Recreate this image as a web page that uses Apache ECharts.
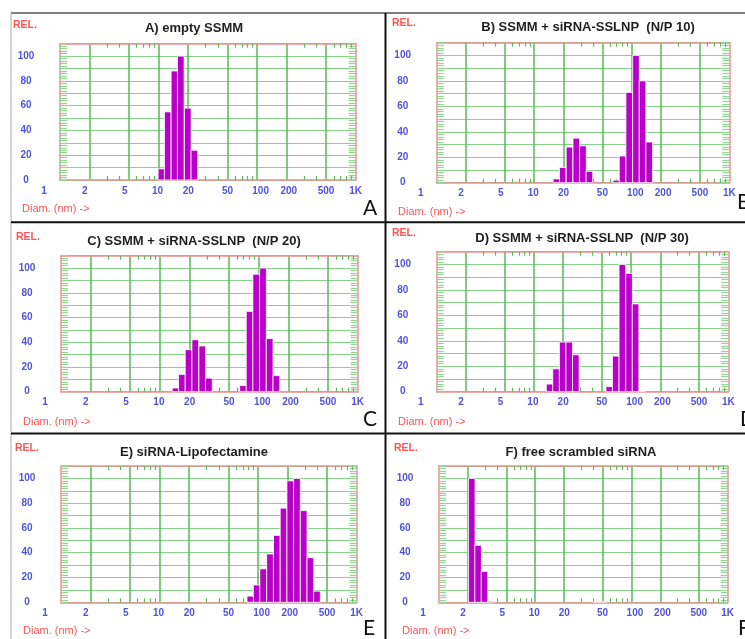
<!DOCTYPE html>
<html>
<head>
<meta charset="utf-8">
<script src="https://cdn.jsdelivr.net/npm/echarts@6/dist/echarts.min.js"></script>
<style>
html,body{margin:0;padding:0;background:#fff;}
#chart{width:745px;height:639px;}
</style>
</head>
<body>
<div id="chart"></div>
<script>
// ---- data ----
var xTickValues = [1, 2, 5, 10, 20, 50, 100, 200, 500, 1000];
var xTickLabels = ['1', '2', '5', '10', '20', '50', '100', '200', '500', '1K'];
var xGridValues = [2, 5, 10, 20, 50, 100, 200, 500];
var xMinorValues = [3, 4, 6, 7, 8, 9, 30, 40, 60, 70, 80, 90, 300, 400, 600, 700, 800, 900];
var yTickLabels = [0, 20, 40, 60, 80, 100];

var panelTitles = [
  'A) empty SSMM',
  'B) SSMM + siRNA-SSLNP  (N/P 10)',
  'C) SSMM + siRNA-SSLNP  (N/P 20)',
  'D) SSMM + siRNA-SSLNP  (N/P 30)',
  'E) siRNA-Lipofectamine',
  'F) free scrambled siRNA'
];
var panelLetters = ['A', 'B', 'C', 'D', 'E', 'F'];

var diamA = [10.7, 12.4, 14.5, 16.8, 19.8, 23.1];
var relA  = [9, 55, 88, 100, 58, 24];
var diamB = [16.9, 19.6, 23.0, 27.0, 31.6, 36.8, 69.3, 80.5, 94.2, 110.4, 129.1, 151.0];
var relB  = [3, 12, 28, 35, 29, 9, 2, 21, 71, 100, 80, 32];
var diamC = [14.4, 16.7, 19.5, 22.8, 26.8, 31.3, 69.3, 80.7, 94.2, 110.2, 128.8, 150.7];
var relC  = [3, 14, 34, 42, 37, 11, 5, 65, 95, 100, 43, 13];
var diamD = [14.5, 16.9, 19.8, 23.1, 27.0, 59.6, 69.5, 81.3, 95.3, 111.2, 129.1];
var relD  = [6, 18, 39, 39, 29, 4, 28, 100, 93, 69, 0.5];
var diamE = [83.4, 96.6, 112.5, 132.1, 154.9, 181.1, 211.8, 247.7, 289.7, 338.8, 395.4];
var relE  = [5, 14, 27, 39, 54, 76, 98, 100, 74, 36, 9];
var diamF = [2.19, 2.55, 2.97, 3.47, 43.6, 50.4];
var relF  = [100, 46, 25, 0.8, 0.5, 0.5];

var panelDiams = [diamA, diamB, diamC, diamD, diamE, diamF];
var panelRels  = [relA, relB, relC, relD, relE, relF];

// ---- layout & style ----
var grids = [
  {left: 60,    top: 43.7,  width: 295.7, height: 136.3},
  {left: 436.7, top: 42.7,  width: 292.6, height: 140},
  {left: 61,    top: 255.7, width: 296.7, height: 136},
  {left: 436.7, top: 251.7, width: 291.6, height: 140},
  {left: 61,    top: 466,   width: 295.7, height: 136.3},
  {left: 439,   top: 466,   width: 288.7, height: 136.3}
];
var titlePos  = [[194, 28.7], [588, 27.7], [194, 241], [582, 238.3], [194, 452.7], [581, 452.7]];
var relPos    = [[13, 25], [392, 23], [16, 237], [392, 233], [15, 448], [394, 448]];
var diamPos   = [[22, 209], [398, 212], [23, 422], [398, 422], [23, 631], [402, 631]];
var letterPos = [[363, 219], [737, 213], [363, 430], [740, 430], [363, 639], [738, 639]];

var FONT = '"Liberation Sans", Arial, Helvetica, sans-serif';
var BAR_COLOR = '#b800c8';
var PINK = '#ec9090';
var GREEN_V = '#55bb55';
var GREEN_H = '#86d286';
var HATCH = '#96d396';
var TICK_GREEN = '#5cbc5c';
var LABEL_BLUE = '#5252dc';
var RED = '#ff5555';
var HALF_BIN = 0.034;

// label nudges (px) to mimic the instrument's label placement
var labelShift = {'1': -16, '2': -5, '5': -4, '10': -1, '100': 3.5, '200': 2};
var rich = {};
xTickLabels.forEach(function (t, i) {
  var s = labelShift[t] || 0;
  rich['t' + i] = {
    color: LABEL_BLUE, fontFamily: FONT, fontWeight: 'bold', fontSize: 10,
    padding: s < 0 ? [0, -2 * s, 0, 0] : [0, 0, 0, 2 * s]
  };
});

function log10(v) { return Math.log(v) / Math.LN10; }

var xAxes = [], yAxes = [], series = [], graphics = [];

grids.forEach(function (g, i) {
  // main bottom axis: labels + vertical grid lines
  xAxes.push({
    gridIndex: i, type: 'value', min: 0, max: 3, position: 'bottom',
    axisLine: {show: true, onZero: false, lineStyle: {color: PINK, width: 1.5}},
    axisTick: {show: false, customValues: xGridValues.map(log10)},
    splitLine: {show: true, lineStyle: {color: GREEN_V, width: 1.5}},
    axisLabel: {
      customValues: xTickValues.map(log10), margin: 6,
      color: LABEL_BLUE, fontFamily: FONT, fontWeight: 'bold', fontSize: 10,
      formatter: function (v) {
        for (var k = 0; k < xTickValues.length; k++) {
          if (Math.abs(log10(xTickValues[k]) - v) < 1e-6) return '{t' + k + '|' + xTickLabels[k] + '}';
        }
        return '';
      },
      rich: rich
    }
  });
  // top axis: minor ticks
  xAxes.push({
    gridIndex: i, type: 'value', min: 0, max: 3, position: 'top',
    axisLine: {show: true, onZero: false, lineStyle: {color: PINK, width: 1.5}},
    axisTick: {show: true, inside: true, length: 4, customValues: xMinorValues.map(log10), lineStyle: {color: TICK_GREEN, width: 1.2}},
    splitLine: {show: false}, axisLabel: {show: false}
  });
  // bottom axis: minor ticks
  xAxes.push({
    gridIndex: i, type: 'value', min: 0, max: 3, position: 'bottom',
    axisLine: {show: false},
    axisTick: {show: true, inside: true, length: 4, customValues: xMinorValues.map(log10), lineStyle: {color: TICK_GREEN, width: 1.2}},
    splitLine: {show: false}, axisLabel: {show: false}
  });
  yAxes.push({
    gridIndex: i, type: 'value', min: 0, max: 110, interval: 10, position: 'left',
    axisLine: {show: true, onZero: false, lineStyle: {color: PINK, width: 1.5}},
    axisTick: {show: true, inside: true, length: 7, lineStyle: {color: HATCH, width: 1.2}},
    minorTick: {show: true, splitNumber: 5, length: 7, lineStyle: {color: HATCH, width: 1.2}},
    splitLine: {show: true, lineStyle: {color: GREEN_H, width: 1.2}},
    axisLabel: {
      customValues: yTickLabels, margin: 34, align: 'center', padding: [0, 0, 4, 0],
      color: LABEL_BLUE, fontFamily: FONT, fontWeight: 'bold', fontSize: 10
    }
  });
  yAxes.push({
    gridIndex: i, type: 'value', min: 0, max: 110, interval: 10, position: 'right',
    axisLine: {show: true, onZero: false, lineStyle: {color: PINK, width: 1.5}},
    axisTick: {show: true, inside: true, length: 7, lineStyle: {color: HATCH, width: 1.2}},
    minorTick: {show: true, splitNumber: 5, length: 7, lineStyle: {color: HATCH, width: 1.2}},
    splitLine: {show: false}, axisLabel: {show: false}
  });

  var data = panelDiams[i].map(function (d, k) { return [log10(d), panelRels[i][k]]; });
  series.push({
    type: 'custom', xAxisIndex: 3 * i, yAxisIndex: 2 * i, data: data, z: 5,
    renderItem: function (params, api) {
      var c = api.value(0), v = api.value(1);
      var tl = api.coord([c - HALF_BIN, v]);
      var br = api.coord([c + HALF_BIN, 0]);
      return {
        type: 'rect',
        shape: {x: tl[0], y: tl[1], width: br[0] - tl[0], height: br[1] - tl[1]},
        style: {fill: BAR_COLOR, stroke: '#ffffff', lineWidth: 0.8}
      };
    }
  });

  graphics.push({
    type: 'text', x: titlePos[i][0], y: titlePos[i][1], z: 10,
    style: {text: panelTitles[i], fill: '#1e1e1e', font: 'bold 13px ' + FONT, textAlign: 'center', textVerticalAlign: 'middle'}
  });
  graphics.push({
    type: 'text', x: relPos[i][0], y: relPos[i][1], z: 10,
    style: {text: 'REL.', fill: RED, font: 'bold 10.5px ' + FONT, textAlign: 'left', textVerticalAlign: 'middle'}
  });
  graphics.push({
    type: 'text', x: diamPos[i][0], y: diamPos[i][1], z: 10,
    style: {text: 'Diam. (nm) ->', fill: RED, font: '11px ' + FONT, textAlign: 'left', textVerticalAlign: 'middle'}
  });
  graphics.push({
    type: 'text', x: letterPos[i][0], y: letterPos[i][1], z: 10,
    style: {text: panelLetters[i], fill: '#111', font: '21px Lato, "Open Sans", sans-serif', textAlign: 'left', textVerticalAlign: 'bottom'}
  });
});

// frame lines
graphics.push({type: 'line', z: 20, shape: {x1: 11, y1: 13, x2: 745, y2: 13}, style: {stroke: '#555', lineWidth: 1.5}});
graphics.push({type: 'line', z: 20, shape: {x1: 11, y1: 13, x2: 11, y2: 639}, style: {stroke: '#aaa', lineWidth: 1}});
graphics.push({type: 'line', z: 20, shape: {x1: 385.5, y1: 13, x2: 385.5, y2: 639}, style: {stroke: '#111', lineWidth: 2}});
graphics.push({type: 'line', z: 20, shape: {x1: 11, y1: 222.3, x2: 745, y2: 222.3}, style: {stroke: '#111', lineWidth: 2}});
graphics.push({type: 'line', z: 20, shape: {x1: 11, y1: 433.5, x2: 745, y2: 433.5}, style: {stroke: '#111', lineWidth: 2}});

var chart = echarts.init(document.getElementById('chart'), null, {renderer: 'canvas'});
chart.setOption({
  backgroundColor: '#ffffff',
  animation: false,
  grid: grids.map(function (g) { return {left: g.left, top: g.top, width: g.width, height: g.height, containLabel: false}; }),
  xAxis: xAxes,
  yAxis: yAxes,
  series: series,
  graphic: graphics
});
</script>
</body>
</html>
